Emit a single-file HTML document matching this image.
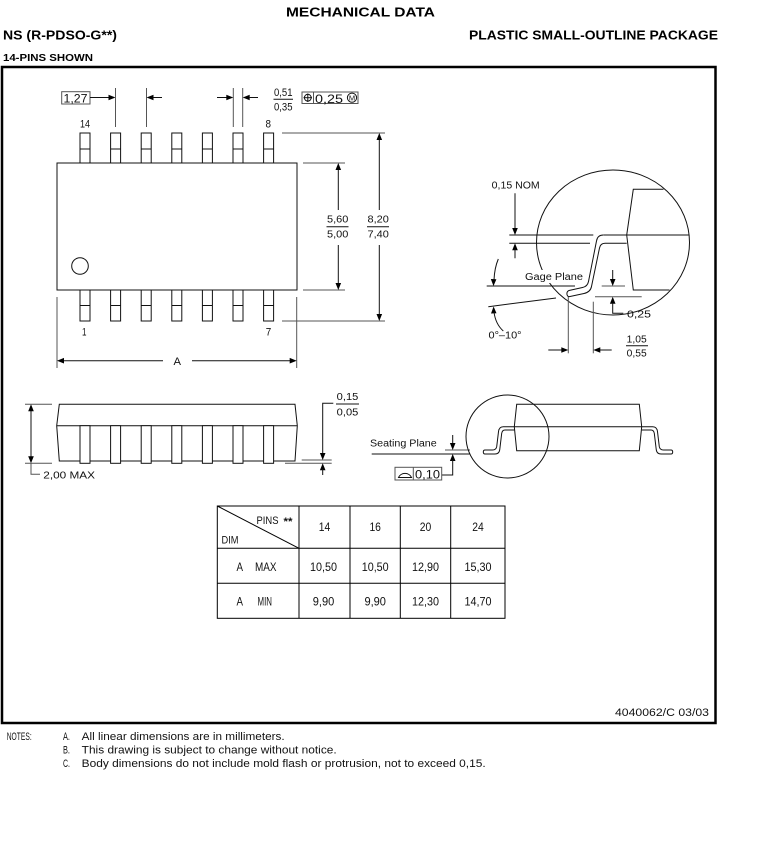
<!DOCTYPE html>
<html><head><meta charset="utf-8">
<style>
html,body{margin:0;padding:0;background:#fff;}
svg{display:block;}
text{font-family:"Liberation Sans",sans-serif;fill:#111;}
.b{font-weight:bold;fill:#000;}
.l{stroke:#111;stroke-width:1;fill:none;}
.e{stroke:#555;stroke-width:1;fill:none;}
.a{fill:#000;stroke:none;}
</style></head><body>
<svg width="773" height="855" viewBox="0 0 773 855" xmlns="http://www.w3.org/2000/svg">
<!-- headers -->
<text class="b" x="286" y="16.7" font-size="13" textLength="149" lengthAdjust="spacingAndGlyphs">MECHANICAL DATA</text>
<text class="b" x="3" y="39.5" font-size="12.5" textLength="114" lengthAdjust="spacingAndGlyphs">NS (R-PDSO-G**)</text>
<text class="b" x="469" y="39.5" font-size="12.5" textLength="249" lengthAdjust="spacingAndGlyphs">PLASTIC SMALL-OUTLINE PACKAGE</text>
<text class="b" x="3" y="61" font-size="10.5" textLength="90" lengthAdjust="spacingAndGlyphs">14-PINS SHOWN</text>

<!-- frame -->
<rect x="2" y="67" width="713.5" height="656" fill="none" stroke="#000" stroke-width="2.5"/>

<!-- ===== TOP VIEW ===== -->
<rect class="l" x="57" y="163" width="240" height="127"/>
<circle class="l" cx="80" cy="266" r="8.3"/>
<g class="l">
<rect x="80" y="133" width="10" height="30"/><line x1="80" y1="149" x2="90" y2="149"/>
<rect x="110.6" y="133" width="10" height="30"/><line x1="110.6" y1="149" x2="120.6" y2="149"/>
<rect x="141.2" y="133" width="10" height="30"/><line x1="141.2" y1="149" x2="151.2" y2="149"/>
<rect x="171.8" y="133" width="10" height="30"/><line x1="171.8" y1="149" x2="181.8" y2="149"/>
<rect x="202.4" y="133" width="10" height="30"/><line x1="202.4" y1="149" x2="212.4" y2="149"/>
<rect x="233" y="133" width="10" height="30"/><line x1="233" y1="149" x2="243" y2="149"/>
<rect x="263.6" y="133" width="10" height="30"/><line x1="263.6" y1="149" x2="273.6" y2="149"/>

<rect x="80" y="290" width="10" height="31"/><line x1="80" y1="305.5" x2="90" y2="305.5"/>
<rect x="110.6" y="290" width="10" height="31"/><line x1="110.6" y1="305.5" x2="120.6" y2="305.5"/>
<rect x="141.2" y="290" width="10" height="31"/><line x1="141.2" y1="305.5" x2="151.2" y2="305.5"/>
<rect x="171.8" y="290" width="10" height="31"/><line x1="171.8" y1="305.5" x2="181.8" y2="305.5"/>
<rect x="202.4" y="290" width="10" height="31"/><line x1="202.4" y1="305.5" x2="212.4" y2="305.5"/>
<rect x="233" y="290" width="10" height="31"/><line x1="233" y1="305.5" x2="243" y2="305.5"/>
<rect x="263.6" y="290" width="10" height="31"/><line x1="263.6" y1="305.5" x2="273.6" y2="305.5"/>
</g>
<text x="80" y="127.5" font-size="11" textLength="10" lengthAdjust="spacingAndGlyphs">14</text>
<text x="265.5" y="127.5" font-size="11" textLength="5.5" lengthAdjust="spacingAndGlyphs">8</text>
<text x="82" y="335.5" font-size="11" textLength="4.5" lengthAdjust="spacingAndGlyphs">1</text>
<text x="265.8" y="335.5" font-size="11" textLength="5.5" lengthAdjust="spacingAndGlyphs">7</text>

<!-- pitch dims -->
<rect x="61.7" y="91.7" width="28.3" height="12.3" fill="none" stroke="#555" stroke-width="1"/>
<text x="63.5" y="102.5" font-size="11.5" textLength="24" lengthAdjust="spacingAndGlyphs">1,27</text>
<line class="l" x1="90" y1="97.5" x2="109" y2="97.5"/>
<polygon class="a" points="115.5,97.5 108.5,94.7 108.5,100.3"/>
<line class="e" x1="115.5" y1="88" x2="115.5" y2="127"/>
<line class="e" x1="146.5" y1="88" x2="146.5" y2="127"/>
<polygon class="a" points="146.5,97.5 153.5,94.7 153.5,100.3"/>
<line class="l" x1="153" y1="97.5" x2="162" y2="97.5"/>

<line class="e" x1="233.3" y1="88" x2="233.3" y2="127"/>
<line class="e" x1="242.7" y1="88" x2="242.7" y2="127"/>
<line class="l" x1="217" y1="97.5" x2="227" y2="97.5"/>
<polygon class="a" points="233.3,97.5 226.3,94.7 226.3,100.3"/>
<polygon class="a" points="242.7,97.5 249.7,94.7 249.7,100.3"/>
<line class="l" x1="249" y1="97.5" x2="258" y2="97.5"/>
<text x="274" y="96" font-size="11" textLength="18.5" lengthAdjust="spacingAndGlyphs">0,51</text>
<line class="l" x1="273.5" y1="99.3" x2="293" y2="99.3"/>
<text x="274" y="110.5" font-size="11" textLength="18.5" lengthAdjust="spacingAndGlyphs">0,35</text>

<rect x="302" y="92" width="56" height="11.5" fill="none" stroke="#555" stroke-width="1"/>
<line x1="313.5" y1="92" x2="313.5" y2="103.5" stroke="#555"/>
<circle class="l" cx="307.8" cy="97.7" r="3.4"/>
<line class="l" x1="303.5" y1="97.7" x2="312" y2="97.7"/>
<line class="l" x1="307.8" y1="93.5" x2="307.8" y2="102"/>
<text x="315" y="102.8" font-size="11.5" textLength="28" lengthAdjust="spacingAndGlyphs">0,25</text>
<circle class="l" cx="352" cy="97.7" r="4.6"/>
<text x="352" y="100.5" font-size="7.5" text-anchor="middle">M</text>

<!-- vertical dims -->
<line class="e" x1="303" y1="163" x2="345" y2="163"/>
<line class="e" x1="303" y1="290" x2="345" y2="290"/>
<line class="e" x1="282" y1="133" x2="385" y2="133"/>
<line class="e" x1="282" y1="321" x2="385" y2="321"/>
<line class="l" x1="338.3" y1="169" x2="338.3" y2="210"/>
<line class="l" x1="338.3" y1="245" x2="338.3" y2="284"/>
<polygon class="a" points="338.3,163 335.5,170 341.1,170"/>
<polygon class="a" points="338.3,290 335.5,283 341.1,283"/>
<text x="327" y="222.5" font-size="10.5" textLength="21.3" lengthAdjust="spacingAndGlyphs">5,60</text>
<line class="l" x1="326.5" y1="226.7" x2="348.5" y2="226.7"/>
<text x="327" y="237.5" font-size="10.5" textLength="21.3" lengthAdjust="spacingAndGlyphs">5,00</text>

<line class="l" x1="379.3" y1="139" x2="379.3" y2="210"/>
<line class="l" x1="379.3" y1="245" x2="379.3" y2="315"/>
<polygon class="a" points="379.3,133 376.5,140 382.1,140"/>
<polygon class="a" points="379.3,321 376.5,314 382.1,314"/>
<text x="367.5" y="222.5" font-size="10.5" textLength="21.3" lengthAdjust="spacingAndGlyphs">8,20</text>
<line class="l" x1="367" y1="226.7" x2="389" y2="226.7"/>
<text x="367.5" y="237.5" font-size="10.5" textLength="21.3" lengthAdjust="spacingAndGlyphs">7,40</text>

<!-- A dim -->
<line class="e" x1="57" y1="297" x2="57" y2="368"/>
<line class="e" x1="296.7" y1="297" x2="296.7" y2="368"/>
<line class="l" x1="63" y1="360.7" x2="163" y2="360.7"/>
<line class="l" x1="192" y1="360.7" x2="290" y2="360.7"/>
<polygon class="a" points="57,360.7 64,357.9 64,363.5"/>
<polygon class="a" points="296.7,360.7 289.7,357.9 289.7,363.5"/>
<text x="173.5" y="365" font-size="11" textLength="7.5" lengthAdjust="spacingAndGlyphs">A</text>

<!-- ===== SIDE VIEW ===== -->
<path class="l" d="M59.3,404.3 L295,404.3 L297.3,425.7 L295,461 L59.3,461 L56.7,425.7 Z"/>
<line class="l" x1="56.7" y1="425.7" x2="297.3" y2="425.7"/>
<g fill="#fff" stroke="#111" stroke-width="1">
<rect x="80" y="425.7" width="10" height="37.6"/>
<rect x="110.6" y="425.7" width="10" height="37.6"/>
<rect x="141.2" y="425.7" width="10" height="37.6"/>
<rect x="171.8" y="425.7" width="10" height="37.6"/>
<rect x="202.4" y="425.7" width="10" height="37.6"/>
<rect x="233" y="425.7" width="10" height="37.6"/>
<rect x="263.6" y="425.7" width="10" height="37.6"/>
</g>
<line class="e" x1="25" y1="404.3" x2="52" y2="404.3"/>
<line class="e" x1="25" y1="463.3" x2="52" y2="463.3"/>
<line class="l" x1="31" y1="410" x2="31" y2="458"/>
<polygon class="a" points="31,404.3 28.2,411.3 33.8,411.3"/>
<polygon class="a" points="31,463.3 28.2,456.3 33.8,456.3"/>
<polyline class="e" points="31,463.3 31,474.3 40,474.3"/>
<text x="43.3" y="478.3" font-size="10" textLength="51.7" lengthAdjust="spacingAndGlyphs">2,00 MAX</text>

<line class="e" x1="301.7" y1="460" x2="331.7" y2="460"/>
<line class="e" x1="285" y1="463.3" x2="331.7" y2="463.3"/>
<polyline class="l" points="333.3,403.3 322.7,403.3 322.7,454"/>
<polygon class="a" points="322.7,460 319.9,453 325.5,453"/>
<polygon class="a" points="322.7,463.3 319.9,470.3 325.5,470.3"/>
<line class="l" x1="322.7" y1="469" x2="322.7" y2="475"/>
<text x="336.7" y="400" font-size="10" textLength="21.6" lengthAdjust="spacingAndGlyphs">0,15</text>
<line class="l" x1="336" y1="404" x2="359" y2="404"/>
<text x="336.7" y="415.5" font-size="10" textLength="21.6" lengthAdjust="spacingAndGlyphs">0,05</text>

<!-- ===== SEATING PLANE VIEW ===== -->
<text x="370" y="446.5" font-size="10" textLength="66.7" lengthAdjust="spacingAndGlyphs">Seating Plane</text>
<line class="l" x1="371.7" y1="454" x2="470" y2="454"/>
<line class="e" x1="445" y1="450" x2="470" y2="450"/>
<line class="l" x1="452.7" y1="435" x2="452.7" y2="444"/>
<polygon class="a" points="452.7,450 449.9,443 455.5,443"/>
<polygon class="a" points="452.7,454 449.9,461 455.5,461"/>
<polyline class="l" points="452.7,460 452.7,475 441.7,475"/>
<rect x="395" y="467.3" width="46.7" height="12.7" fill="none" stroke="#555" stroke-width="1"/>
<line x1="413.3" y1="467.3" x2="413.3" y2="480" stroke="#555"/>
<path class="l" d="M398.5,477.5 A7,6.5 0 0 1 411.5,477.5 Z"/>
<text x="415" y="478.7" font-size="12" textLength="25" lengthAdjust="spacingAndGlyphs">0,10</text>

<circle class="l" cx="507.5" cy="436.5" r="41.5"/>
<path class="l" d="M516.7,404.3 L639.3,404.3 L641.7,426.7 L639.3,450.7 L516.7,450.7 L514.3,426.7 Z"/>
<line class="l" x1="514.3" y1="426.7" x2="641.7" y2="426.7"/>
<path class="l" d="M514.3,426.7 L503.3,426.7 Q499,426.7 498.5,431.7 L496.7,446.7 Q496,450 492.5,450 L485,450 Q483.3,450 483.3,452 Q483.3,454 485,454 L495,454 Q499,454 499.7,450 L501.7,433.3 Q502.3,430 505,430 L514.3,430"/>
<path class="l" d="M641.7,426.7 L652.7,426.7 Q657,426.7 657.5,431.7 L659.3,446.7 Q660,450 663.5,450 L671,450 Q672.7,450 672.7,452 Q672.7,454 671,454 L661,454 Q657,454 656.3,450 L654.3,433.3 Q653.7,430 651,430 L641.7,430"/>

<!-- ===== GAGE DETAIL ===== -->
<ellipse class="l" cx="613" cy="242.5" rx="76.5" ry="72.5"/>
<rect x="523" y="270" width="62" height="13" fill="#fff"/>
<text x="525" y="280" font-size="10" textLength="58" lengthAdjust="spacingAndGlyphs">Gage Plane</text>
<polyline class="l" points="663.5,189.3 633.3,189.3 626.7,235 633.3,290 669.5,290"/>
<line class="l" x1="509.3" y1="235" x2="593.3" y2="235"/>
<line class="l" x1="603.3" y1="235" x2="689.3" y2="235"/>
<line class="l" x1="509.3" y1="243.3" x2="590" y2="243.3"/>
<path class="l" d="M626.7,243.3 L605,243.3 Q600.5,243.3 599.5,248 L591.5,286.5 Q590.5,292 584,293.5 L570,296.5 Q567.5,297 567,294.5 Q566.5,291.5 569,290.5 L582.5,287.5 Q587.5,286.5 588.5,281.5 L596.5,241 Q597.5,235 603.3,235"/>
<text x="491.7" y="188.5" font-size="10" textLength="48" lengthAdjust="spacingAndGlyphs">0,15 NOM</text>
<line class="l" x1="515" y1="193.3" x2="515" y2="229"/>
<polygon class="a" points="515,235 512.2,228 517.8,228"/>
<polygon class="a" points="515,243.3 512.2,250.3 517.8,250.3"/>
<line class="l" x1="515" y1="249" x2="515" y2="258.3"/>

<line class="l" x1="486.7" y1="286" x2="575" y2="286"/>
<line class="l" x1="488.3" y1="306.7" x2="556" y2="298"/>
<path class="l" d="M498.3,259 Q494.5,268 494,280"/>
<polygon class="a" points="493.5,286 490.8,279 496.4,279.3"/>
<polygon class="a" points="493.6,306.5 491,313.5 496.5,313.2"/>
<path class="l" d="M494,312 Q495.5,324 503.3,331"/>
<text x="488.5" y="338.5" font-size="10" textLength="33" lengthAdjust="spacingAndGlyphs">0°–10°</text>

<line class="e" x1="601.7" y1="286" x2="625" y2="286"/>
<line class="e" x1="595" y1="296.7" x2="641.7" y2="296.7"/>
<line class="l" x1="612.7" y1="270" x2="612.7" y2="280"/>
<polygon class="a" points="612.7,286 609.9,279 615.5,279"/>
<polygon class="a" points="612.7,296.7 609.9,303.7 615.5,303.7"/>
<polyline class="l" points="612.7,303 612.7,313.3 623.3,313.3"/>
<text x="627" y="317.5" font-size="10" textLength="24" lengthAdjust="spacingAndGlyphs">0,25</text>

<line class="e" x1="568.3" y1="297" x2="568.3" y2="353.3"/>
<line class="e" x1="593.3" y1="301.7" x2="593.3" y2="353.3"/>
<line class="l" x1="548.3" y1="350" x2="562" y2="350"/>
<polygon class="a" points="568.3,350 561.3,347.2 561.3,352.8"/>
<polygon class="a" points="593.3,350 600.3,347.2 600.3,352.8"/>
<line class="l" x1="600" y1="350" x2="611.7" y2="350"/>
<text x="626.7" y="342.7" font-size="10" textLength="20" lengthAdjust="spacingAndGlyphs">1,05</text>
<line class="l" x1="626" y1="345.7" x2="648" y2="345.7"/>
<text x="626.7" y="356.7" font-size="10" textLength="20" lengthAdjust="spacingAndGlyphs">0,55</text>

<!-- ===== TABLE ===== -->
<rect x="217.3" y="506" width="287.7" height="112.3" fill="none" stroke="#000" stroke-width="1"/>
<g stroke="#000" stroke-width="1">
<line x1="299" y1="506" x2="299" y2="618.3"/>
<line x1="350" y1="506" x2="350" y2="618.3"/>
<line x1="400.3" y1="506" x2="400.3" y2="618.3"/>
<line x1="450.7" y1="506" x2="450.7" y2="618.3"/>
<line x1="217.3" y1="548.3" x2="505" y2="548.3"/>
<line x1="217.3" y1="583.3" x2="505" y2="583.3"/>
<line x1="217.3" y1="506" x2="299" y2="548.3"/>
</g>
<text x="256.5" y="524" font-size="11" textLength="22" lengthAdjust="spacingAndGlyphs">PINS</text>
<text x="283.5" y="525" font-size="11" font-weight="bold" textLength="9" lengthAdjust="spacingAndGlyphs">**</text>
<text x="221.5" y="543.5" font-size="11" textLength="17" lengthAdjust="spacingAndGlyphs">DIM</text>
<g font-size="11.5" text-anchor="middle">
<text x="324.5" y="531" textLength="11.5" lengthAdjust="spacingAndGlyphs">14</text>
<text x="375.2" y="531" textLength="11.5" lengthAdjust="spacingAndGlyphs">16</text>
<text x="425.5" y="531" textLength="11.5" lengthAdjust="spacingAndGlyphs">20</text>
<text x="478" y="531" textLength="11.5" lengthAdjust="spacingAndGlyphs">24</text>
<text x="323.5" y="571" textLength="27" lengthAdjust="spacingAndGlyphs">10,50</text>
<text x="375.2" y="571" textLength="27" lengthAdjust="spacingAndGlyphs">10,50</text>
<text x="425.5" y="571" textLength="27" lengthAdjust="spacingAndGlyphs">12,90</text>
<text x="478" y="571" textLength="27" lengthAdjust="spacingAndGlyphs">15,30</text>
<text x="323.5" y="605.5" textLength="21.5" lengthAdjust="spacingAndGlyphs">9,90</text>
<text x="375.2" y="605.5" textLength="21.5" lengthAdjust="spacingAndGlyphs">9,90</text>
<text x="425.5" y="605.5" textLength="27" lengthAdjust="spacingAndGlyphs">12,30</text>
<text x="478" y="605.5" textLength="27" lengthAdjust="spacingAndGlyphs">14,70</text>
</g>
<text x="236.5" y="571" font-size="11.5" textLength="6.5" lengthAdjust="spacingAndGlyphs">A</text>
<text x="255" y="571" font-size="11.5" textLength="21.5" lengthAdjust="spacingAndGlyphs">MAX</text>
<text x="236.5" y="605.5" font-size="11.5" textLength="6.5" lengthAdjust="spacingAndGlyphs">A</text>
<text x="257.5" y="605.5" font-size="11.5" textLength="14.5" lengthAdjust="spacingAndGlyphs">MIN</text>

<!-- drawing number -->
<text x="615" y="716" font-size="11" textLength="94" lengthAdjust="spacingAndGlyphs">4040062/C 03/03</text>

<!-- notes -->
<g font-size="11">
<text x="6.7" y="740" textLength="25" lengthAdjust="spacingAndGlyphs">NOTES:</text>
<text x="63" y="740" textLength="7" lengthAdjust="spacingAndGlyphs">A.</text>
<text x="81.7" y="740" textLength="203" lengthAdjust="spacingAndGlyphs">All linear dimensions are in millimeters.</text>
<text x="63" y="753.5" textLength="7" lengthAdjust="spacingAndGlyphs">B.</text>
<text x="81.7" y="753.5" textLength="255" lengthAdjust="spacingAndGlyphs">This drawing is subject to change without notice.</text>
<text x="63" y="767" textLength="7" lengthAdjust="spacingAndGlyphs">C.</text>
<text x="81.7" y="767" textLength="404" lengthAdjust="spacingAndGlyphs">Body dimensions do not include mold flash or protrusion, not to exceed 0,15.</text>
</g>
</svg>
</body></html>
